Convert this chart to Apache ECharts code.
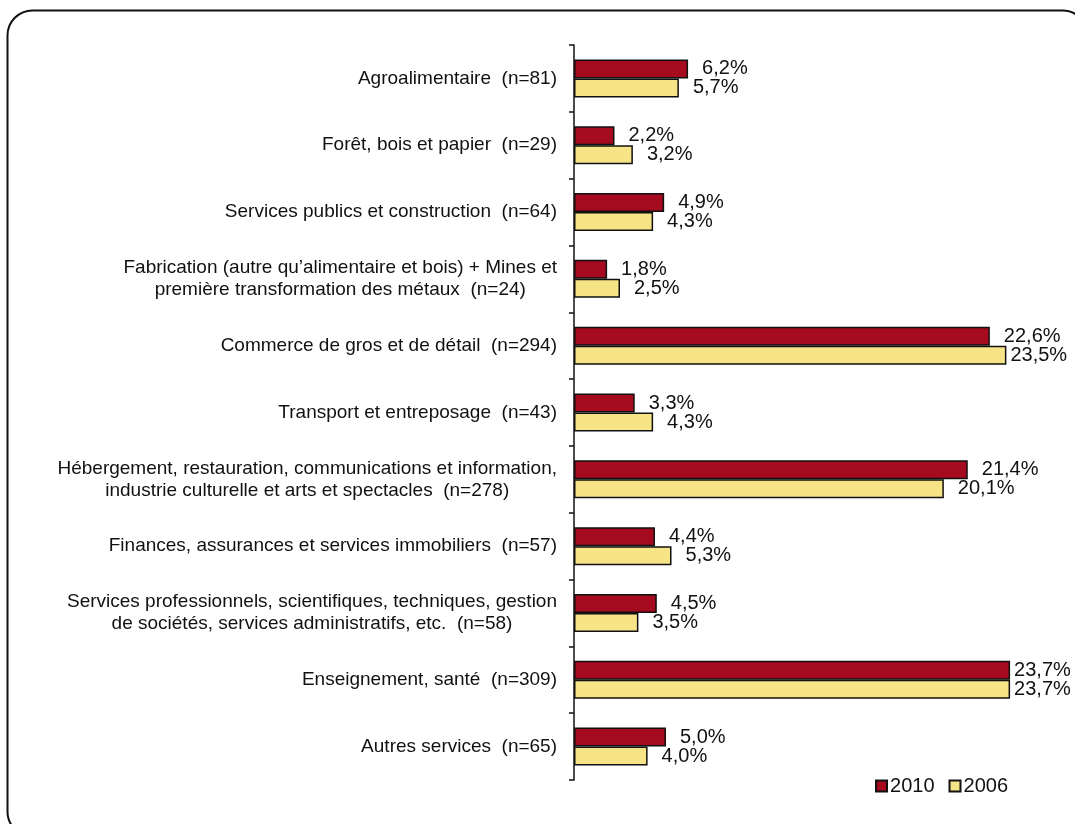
<!DOCTYPE html>
<html>
<head>
<meta charset="utf-8">
<script src="https://cdn.jsdelivr.net/npm/echarts@6/dist/echarts.min.js"></script>
<style>
  html, body { margin: 0; padding: 0; background: #fff; }
  #chart { width: 1075px; height: 824px; }
</style>
</head>
<body>
<div id="chart"></div>
<script>
// Sector categories (top to bottom)
const categories = [
  "Agroalimentaire  (n=81)",
  "Forêt, bois et papier  (n=29)",
  "Services publics et construction  (n=64)",
  "Fabrication (autre qu’alimentaire et bois) + Mines et\npremière transformation des métaux  (n=24)",
  "Commerce de gros et de détail  (n=294)",
  "Transport et entreposage  (n=43)",
  "Hébergement, restauration, communications et information,\nindustrie culturelle et arts et spectacles  (n=278)",
  "Finances, assurances et services immobiliers  (n=57)",
  "Services professionnels, scientifiques, techniques, gestion\nde sociétés, services administratifs, etc.  (n=58)",
  "Enseignement, santé  (n=309)",
  "Autres services  (n=65)"
];

// Share of respondents (%)
const values2010 = [6.2, 2.2, 4.9, 1.8, 22.6, 3.3, 21.4, 4.4, 4.5, 23.7, 5.0];
const values2006 = [5.7, 3.2, 4.3, 2.5, 23.5, 4.3, 20.1, 5.3, 3.5, 23.7, 4.0];

const seriesNames = ["2010", "2006"];
const seriesColors = ["#A50A1E", "#F7E487"];

const FONT = "'Liberation Sans', Arial, sans-serif";

function fmt(v) {
  return v.toFixed(1).replace('.', ',') + '%';
}

// Labels near the plot edge sit closer to their bar
function toItems(arr) {
  return arr.map(v => ({
    value: v,
    label: { distance: v > 23 ? 4 : 14 }
  }));
}

function makeSeries(name, data, color) {
  return {
    name: name,
    type: 'bar',
    data: toItems(data),
    barWidth: 19,
    barGap: '0%',
    itemStyle: { color: color, borderColor: '#111', borderWidth: 1.5 },
    label: {
      show: true,
      position: 'right',
      color: '#111',
      fontFamily: FONT,
      fontSize: 20,
      formatter: p => fmt(p.value)
    },
    emphasis: { disabled: true },
    animation: false
  };
}

const chart = echarts.init(document.getElementById('chart'));
chart.setOption({
  animation: false,
  graphic: [{
    type: 'rect',
    shape: { x: 7.5, y: 10.5, width: 1080, height: 826, r: 25 },
    style: { fill: 'none', stroke: '#111', lineWidth: 2 },
    silent: true,
    z: -1
  }],
  grid: { left: 574, top: 45, width: 460, height: 735, containLabel: false },
  legend: {
    data: seriesNames,
    right: 62,
    top: 771,
    icon: 'rect',
    itemWidth: 11,
    itemHeight: 11,
    itemGap: 14,
    textStyle: { fontFamily: FONT, fontSize: 20, color: '#111', padding: [0, 0, 0, -2] },
    selectedMode: false
  },
  xAxis: {
    type: 'value',
    min: 0,
    max: 25,
    show: false
  },
  yAxis: {
    type: 'category',
    inverse: true,
    data: categories,
    axisLine: { show: true, lineStyle: { color: '#111', width: 1.5 } },
    axisTick: { show: true, length: 5, lineStyle: { color: '#111', width: 1.5 } },
    axisLabel: {
      margin: 17,
      fontFamily: FONT,
      fontSize: 19,
      color: '#111',
      lineHeight: 22,
      formatter: function (val) {
        return val.split('\n').map(s => '{c|' + s + '}').join('\n');
      },
      rich: {
        c: { align: 'center', fontFamily: FONT, fontSize: 19, color: '#111', lineHeight: 22 }
      }
    },
    splitLine: { show: false }
  },
  series: [
    makeSeries(seriesNames[0], values2010, seriesColors[0]),
    makeSeries(seriesNames[1], values2006, seriesColors[1])
  ]
});
</script>
</body>
</html>
